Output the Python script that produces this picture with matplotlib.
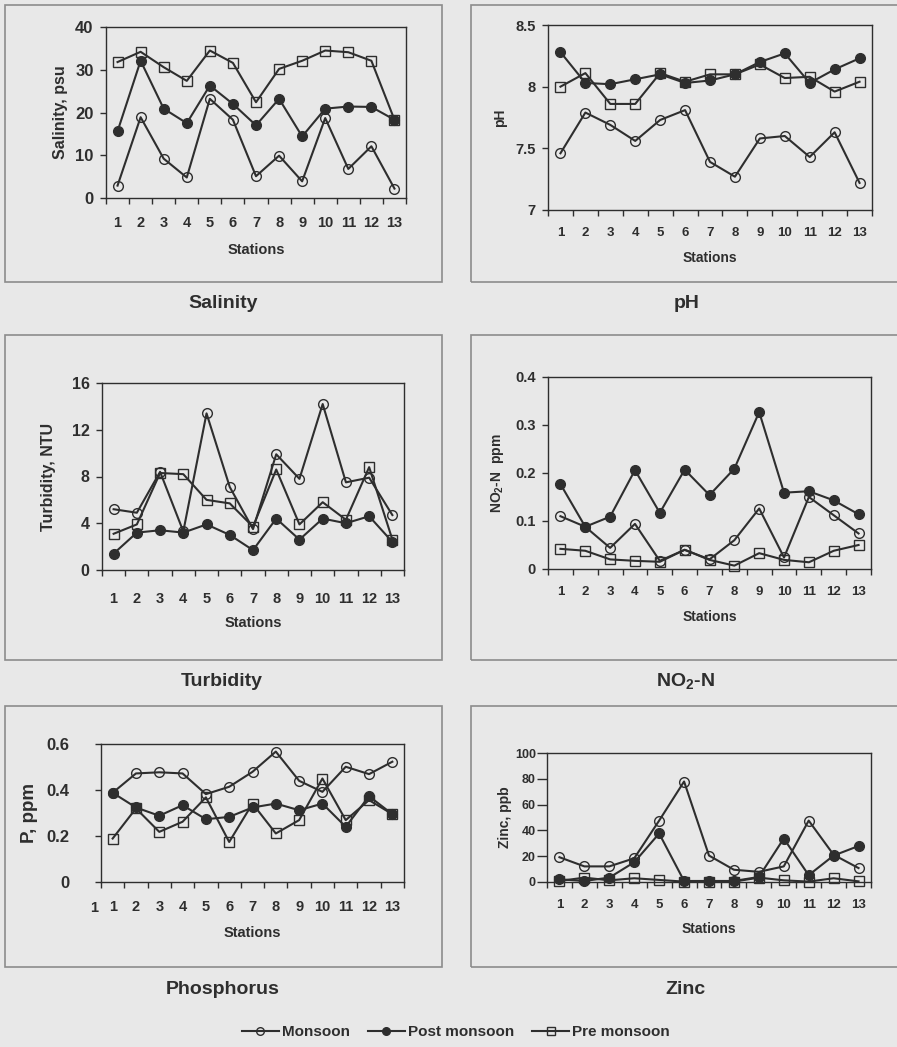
#!/usr/bin/env python3
"""Seasonal water quality at 13 stations, six panels with a shared legend."""

import matplotlib as mpl

mpl.use("Agg")
import matplotlib.pyplot as plt
from matplotlib.lines import Line2D
from matplotlib.patches import Rectangle
from matplotlib.ticker import FixedLocator, FuncFormatter

STATIONS = list(range(1, 14))
SEASONS = ["Monsoon", "Post monsoon", "Pre monsoon"]

SALINITY_MONSOON = [2.9, 18.9, 9.2, 4.8, 23.2, 18.3, 5.1, 9.9, 3.9, 18.7, 6.8, 12.1, 2.2]
SALINITY_POST = [15.6, 32.1, 20.9, 17.5, 26.3, 22.0, 17.0, 23.2, 14.4, 20.9, 21.4, 21.3, 18.3]
SALINITY_PRE = [31.8, 34.2, 30.6, 27.4, 34.5, 31.6, 22.4, 30.2, 32.1, 34.5, 34.1, 32.1, 18.3]

PH_MONSOON = [7.46, 7.79, 7.69, 7.56, 7.73, 7.81, 7.39, 7.27, 7.58, 7.60, 7.43, 7.63, 7.22]
PH_POST = [8.28, 8.03, 8.02, 8.06, 8.10, 8.03, 8.05, 8.10, 8.20, 8.27, 8.03, 8.14, 8.23]
PH_PRE = [8.00, 8.11, 7.86, 7.86, 8.11, 8.04, 8.10, 8.10, 8.18, 8.07, 8.08, 7.96, 8.04]

TURBIDITY_MONSOON = [5.2, 4.9, 8.4, 3.3, 13.4, 7.1, 3.5, 9.9, 7.8, 14.2, 7.5, 7.9, 4.7]
TURBIDITY_POST = [1.4, 3.2, 3.4, 3.2, 3.9, 3.0, 1.7, 4.4, 2.6, 4.4, 4.0, 4.6, 2.4]
TURBIDITY_PRE = [3.1, 3.9, 8.3, 8.2, 6.0, 5.7, 3.7, 8.6, 3.9, 5.8, 4.3, 8.8, 2.6]

NO2_MONSOON = [0.110, 0.088, 0.044, 0.094, 0.017, 0.040, 0.020, 0.060, 0.126, 0.024, 0.150, 0.112, 0.074]
NO2_POST = [0.177, 0.088, 0.109, 0.206, 0.117, 0.207, 0.154, 0.209, 0.327, 0.159, 0.162, 0.143, 0.114]
NO2_PRE = [0.042, 0.038, 0.020, 0.017, 0.015, 0.040, 0.019, 0.007, 0.033, 0.019, 0.014, 0.038, 0.050]

P_MONSOON = [0.388, 0.472, 0.477, 0.472, 0.382, 0.414, 0.479, 0.567, 0.440, 0.392, 0.501, 0.469, 0.523]
P_POST = [0.388, 0.324, 0.288, 0.334, 0.273, 0.283, 0.324, 0.341, 0.312, 0.341, 0.240, 0.373, 0.295]
P_PRE = [0.189, 0.320, 0.218, 0.262, 0.368, 0.174, 0.341, 0.211, 0.269, 0.450, 0.269, 0.356, 0.295]

ZINC_MONSOON = [19.2, 12.1, 12.1, 18.4, 47.6, 77.9, 20.5, 9.5, 7.9, 12.1, 47.6, 21.1, 10.8]
ZINC_POST = [2.1, 0.8, 3.4, 15.3, 37.6, 0.8, 0.8, 0.8, 3.9, 33.7, 5.3, 20.5, 27.9]
ZINC_PRE = [0.8, 3.4, 1.3, 2.9, 1.6, 0.3, 0.3, 0.3, 3.4, 1.3, 0.3, 2.9, 0.5]

W, H = 897, 1047
BG = "#e8e8e8"
INK = "#2e2e2e"
EDGE = "#8c8c8c"

plt.rcParams["font.family"] = ["Liberation Sans", "DejaVu Sans"]
plt.rcParams["font.weight"] = "bold"
plt.rcParams["axes.labelweight"] = "bold"
plt.rcParams["mathtext.fontset"] = "custom"
plt.rcParams["mathtext.rm"] = "Liberation Sans:bold"
plt.rcParams["mathtext.bf"] = "Liberation Sans:bold"


def box(left, top, right, bottom):
    """Pixel box (from top-left) to figure fraction rectangle."""
    return [left / W, 1 - bottom / H, (right - left) / W, (bottom - top) / H]


def season_styles():
    return [
        dict(marker="o", mfc="none"),
        dict(marker="o", mfc=INK),
        dict(marker="s", mfc="none"),
    ]


def draw_panel(fig, rect, series, ylim, yticks, ylabel, spec):
    ax = fig.add_axes(box(*rect))
    ax.set_facecolor(BG)
    for values, style in zip(series, season_styles()):
        ax.plot(STATIONS, values, color=INK, lw=1.5, ms=spec["ms"],
                mec=INK, mew=1.0, clip_on=False, **style)
    ax.set_xlim(0.5, 13.5)
    ax.set_ylim(*ylim)
    ax.set_xticks(STATIONS)
    ax.xaxis.set_minor_locator(FixedLocator([s + 0.5 for s in range(0, 14)]))
    ax.tick_params(axis="x", which="major", length=0, pad=spec["xpad"],
                   labelsize=spec["xfs"], labelcolor=INK)
    ax.tick_params(axis="x", which="minor", length=4, width=1, color=INK,
                   direction="out")
    ax.set_yticks(yticks)
    ax.yaxis.set_major_formatter(FuncFormatter(lambda v, _: f"{v:g}"))
    ax.tick_params(axis="y", length=spec.get("ylen", 4), width=1, color=INK,
                   direction="out", pad=spec["ypad"], labelsize=spec["yfs"],
                   labelcolor=INK)
    for side in ax.spines.values():
        side.set_color(INK)
        side.set_linewidth(1.0)
    height = rect[3] - rect[1]
    width = rect[2] - rect[0]
    ax.set_xlabel("Stations", fontsize=spec["lfs"], color=INK, va="center")
    ax.xaxis.set_label_coords(0.5, -spec["xlab"] / height)
    ax.set_ylabel(ylabel, fontsize=spec.get("yls", spec["lfs"]), color=INK,
                  va="center")
    ax.yaxis.set_label_coords(-spec["ylab"] / width, 0.5)
    return ax


def main():
    fig = plt.figure(figsize=(W / 100, H / 100), dpi=100, facecolor=BG)

    frames = [(5, 5, 442, 282), (471, 5, 905, 282),
              (5, 335, 442, 660), (471, 335, 905, 660),
              (5, 706, 442, 967), (471, 706, 905, 967)]
    for l, t, r, b in frames:
        fig.patches.append(Rectangle((l / W, 1 - b / H), (r - l) / W, (b - t) / H,
                                     transform=fig.transFigure, fill=False,
                                     ec=EDGE, lw=1.2))

    left = dict(ms=7, xfs=10.5, yfs=11.5, lfs=10.5, yls=11.5, xpad=13, ypad=5)
    right = dict(ms=7, xfs=9.5, yfs=10.5, lfs=10, yls=10, xpad=12, ypad=5)

    draw_panel(fig, (106, 27, 406, 198),
               [SALINITY_MONSOON, SALINITY_POST, SALINITY_PRE],
               (0, 40), [0, 10, 20, 30, 40], "Salinity, psu",
               dict(left, xlab=52, ylab=46, yfs=12))
    draw_panel(fig, (548, 25, 872, 210),
               [PH_MONSOON, PH_POST, PH_PRE],
               (7, 8.5), [7, 7.5, 8, 8.5], "pH",
               dict(right, xlab=48, ylab=48))
    draw_panel(fig, (102, 383, 404, 570),
               [TURBIDITY_MONSOON, TURBIDITY_POST, TURBIDITY_PRE],
               (0, 16), [0, 4, 8, 12, 16], "Turbidity, NTU",
               dict(left, xlab=53, ylab=54, xpad=16))
    draw_panel(fig, (548, 377, 871, 569),
               [NO2_MONSOON, NO2_POST, NO2_PRE],
               (0, 0.4), [0, 0.1, 0.2, 0.3, 0.4], r"NO$_{2}$-N  ppm",
               dict(right, xlab=48, ylab=51))
    ax_p = draw_panel(fig, (101, 744, 404, 882),
                      [P_MONSOON, P_POST, P_PRE],
                      (0, 0.6), [0, 0.2, 0.4, 0.6], "P, ppm",
                      dict(left, xlab=51, ylab=71, ypad=19, yfs=12, yls=13.5))
    draw_panel(fig, (547, 753, 871, 882),
               [ZINC_MONSOON, ZINC_POST, ZINC_PRE],
               (0, 100), [0, 20, 40, 60, 80, 100], "Zinc, ppb",
               dict(right, xlab=47, ylab=42, ylen=7, ypad=1, yfs=9))
    # stray category label left of the phosphorus axis
    ax_p.text(-0.023, -0.19, "1", transform=ax_p.transAxes, ha="center",
              va="center", fontsize=10.5, color=INK)

    titles = [("Salinity", 223, 303), ("pH", 687, 303),
              ("Turbidity", 222, 682), (r"NO$_{2}$-N", 685, 682),
              ("Phosphorus", 223, 990), ("Zinc", 685, 990)]
    for text, x, y in titles:
        fig.text(x / W, 1 - y / H, text, ha="center", va="center",
                 fontsize=14, color=INK)

    handles = [Line2D([], [], color=INK, lw=1.5, ms=5.5, mec=INK, mew=1.0, **s)
               for s in season_styles()]
    fig.legend(handles, SEASONS, loc="center", ncol=3, frameon=False,
               bbox_to_anchor=(456 / W, 1 - 1032 / H), fontsize=11,
               handlelength=2.4, handletextpad=0.2, columnspacing=1.2,
               labelcolor=INK)

    fig.savefig("out.png", dpi=100, facecolor=BG)
    plt.close(fig)


if __name__ == "__main__":
    main()
